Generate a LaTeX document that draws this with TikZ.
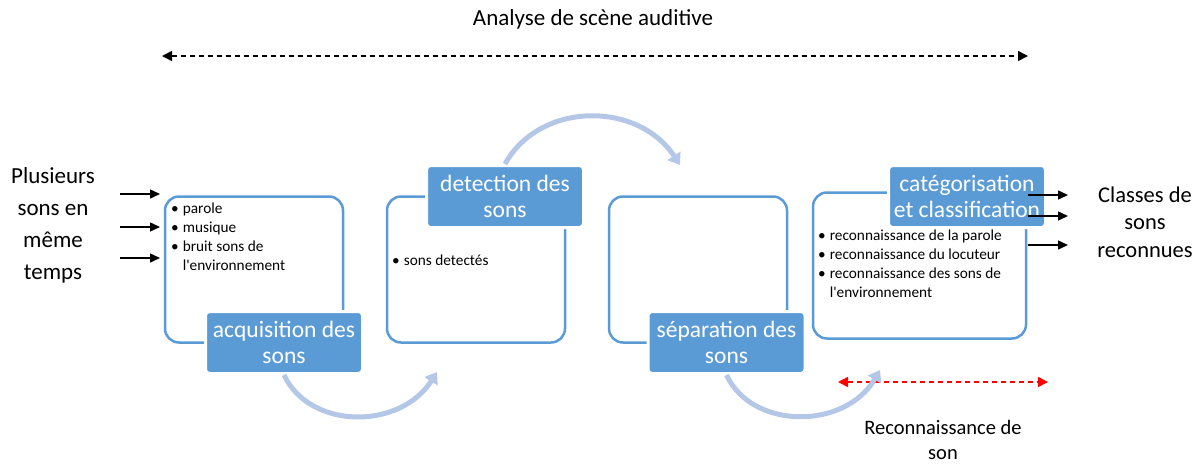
\documentclass[tikz,border=0pt]{standalone}
\usepackage{fontspec}
\setmainfont{Carlito}
\usetikzlibrary{arrows.meta}

\definecolor{boxblue}{HTML}{5B9BD5}
\definecolor{arcblue}{HTML}{B4C7E7}

\newcommand\bitem[1]{\textbullet\hspace{4pt}#1}
\newcommand\bcont[1]{\hphantom{\textbullet\hspace{4pt}}#1}

\tikzset{
  stage/.style = {draw = boxblue, line width = 2.5pt, rounded corners = 14pt,
    minimum width = 178pt, minimum height = 146pt, inner sep = 0pt},
  tag/.style = {fill = boxblue, draw = white, line width = 3pt,
    rounded corners = 4pt, text = white, font = \fontsize{23.5}{26}\selectfont,
    align = center, minimum width = 157pt, minimum height = 62pt, inner sep = 0pt},
  items/.style = {font = \fontsize{15.3}{19}\selectfont, align = left,
    anchor = north west, inner sep = 0pt},
  flow/.style = {arcblue, line width = 5pt,
    -{Triangle[length = 11pt, width = 15pt]}},
  sidearrow/.style = {line width = 1.5pt, -{Triangle[length = 10pt, width = 9pt]}},
  span/.style = {dashed, line width = 1.5pt, dash pattern = on 5pt off 4pt,
    {Triangle[length = 10pt, width = 10pt]}-{Triangle[length = 10pt, width = 10pt]}}
}

\begin{document}
\begin{tikzpicture}[x = 1pt, y = -1pt]

  \useasboundingbox (0, 0) rectangle (1203, 464);

  \node[stage] (acq) at (254, 269.5) {};
  \node[stage] (det) at (476, 269.5) {};
  \node[stage] (sep) at (698, 269.5) {};
  \node[stage, minimum width = 213pt] (cat) at (919.5, 265.5) {};

  \node[tag] (acqtag) at (284, 342.5) {acquisition des\\sons};
  \node[tag] (dettag) at (505, 196.5) {detection des\\sons};
  \node[tag] (septag) at (726.5, 342.5) {séparation des\\sons};
  \node[tag] (cattag) at (967, 196.5) {catégorisation\\et classification};

  \node[items] (acqitems) at (171, 203)
    {\bitem{parole}\\ \bitem{musique}\\ \bitem{bruit sons de}\\
     \bcont{l\textquotesingle environnement}};
  \node[items] (detitems) at (392, 255) {\bitem{sons detectés}};
  \node[items] (catitems) at (818, 230)
    {\bitem{reconnaissance de la parole}\\ \bitem{reconnaissance du locuteur}\\
     \bitem{reconnaissance des sons de}\\ \bcont{l\textquotesingle environnement}};

  \node[font = \fontsize{23}{32}\selectfont, align = center] (input) at (53, 225)
    {Plusieurs\\sons en\\même\\temps};
  \node[font = \fontsize{22.5}{27.5}\selectfont, align = center] (output) at (1145, 222)
    {Classes de\\sons\\reconnues};
  \node[font = \fontsize{23}{26}\selectfont] (scene) at (593, 19)
    {Analyse de scène auditive};
  \node[font = \fontsize{20.5}{25}\selectfont, align = center] (recog) at (943, 440)
    {Reconnaissance de\\son};

  \foreach \y in {194, 227, 258} {
    \draw[sidearrow] (120, \y) -- (160, \y);
  }
  \foreach \y in {195, 216, 245} {
    \draw[sidearrow] (1028, \y) -- (1068, \y);
  }

  \coordinate (scenel) at (162, 56);
  \coordinate (scener) at (1028, 56);
  \coordinate (recogl) at (838, 382);
  \coordinate (recogr) at (1048, 382);
  \draw[span] (scenel) -- (scener);
  \draw[span, red] (recogl) -- (recogr);

  \coordinate (detin) at (437, 372);
  \coordinate (sepin) at (680, 165);
  \coordinate (catin) at (880, 370);
  \draw[flow] (acqtag.south) .. controls (310, 430) and (400, 430) .. (detin);
  \draw[flow] (dettag.north) .. controls (540, 101) and (638, 101) .. (sepin);
  \draw[flow] (septag.south) .. controls (752, 430) and (845, 430) .. (catin);

\end{tikzpicture}
\end{document}
